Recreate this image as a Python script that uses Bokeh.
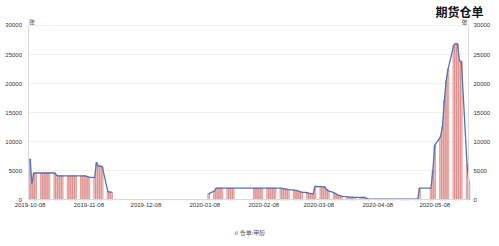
from datetime import datetime, timedelta

from bokeh.embed import file_html
from bokeh.models import (ColumnDataSource, DatetimeTickFormatter, FixedTicker,
                          Label, Legend, LegendItem, LinearAxis, Range1d)
from bokeh.plotting import figure
from bokeh.resources import INLINE

# Methanol futures warehouse receipts (张), one value per trading day
dates = [
    "2019-10-08", "2019-10-09", "2019-10-10", "2019-10-11",
    "2019-10-14", "2019-10-15", "2019-10-16", "2019-10-17", "2019-10-18",
    "2019-10-21", "2019-10-22", "2019-10-23", "2019-10-24", "2019-10-25",
    "2019-10-28", "2019-10-29", "2019-10-30", "2019-10-31", "2019-11-01",
    "2019-11-04", "2019-11-05", "2019-11-06", "2019-11-07", "2019-11-08",
    "2019-11-11", "2019-11-12", "2019-11-13", "2019-11-14", "2019-11-15",
    "2019-11-18", "2019-11-19", "2019-11-20",
    "2020-01-10",
    "2020-01-13", "2020-01-14", "2020-01-15", "2020-01-16", "2020-01-17",
    "2020-01-20", "2020-01-21", "2020-01-22", "2020-01-23",
    "2020-02-03", "2020-02-04", "2020-02-05", "2020-02-06", "2020-02-07",
    "2020-02-10", "2020-02-11", "2020-02-12", "2020-02-13", "2020-02-14",
    "2020-02-17", "2020-02-18", "2020-02-19", "2020-02-20", "2020-02-21",
    "2020-02-24", "2020-02-25", "2020-02-26", "2020-02-27", "2020-02-28",
    "2020-03-02", "2020-03-03", "2020-03-04", "2020-03-05", "2020-03-06",
    "2020-03-09", "2020-03-10", "2020-03-11", "2020-03-12", "2020-03-13",
    "2020-03-16", "2020-03-17", "2020-03-18", "2020-03-19", "2020-03-20",
    "2020-03-23", "2020-03-24", "2020-03-25", "2020-03-26", "2020-03-27",
    "2020-03-30", "2020-03-31", "2020-04-01", "2020-04-02", "2020-04-03",
    "2020-04-07", "2020-04-08", "2020-04-09", "2020-04-10",
    "2020-04-13", "2020-04-14", "2020-04-15", "2020-04-16", "2020-04-17",
    "2020-04-20", "2020-04-21", "2020-04-22", "2020-04-23", "2020-04-24",
    "2020-04-27", "2020-04-28", "2020-04-29", "2020-04-30",
    "2020-05-06", "2020-05-07", "2020-05-08",
    "2020-05-11", "2020-05-12", "2020-05-13", "2020-05-14", "2020-05-15",
    "2020-05-18", "2020-05-19", "2020-05-20", "2020-05-21", "2020-05-22",
    "2020-05-25", "2020-05-26",
]
receipts = [
    7000, 2700, 4600, 4600,
    4600, 4600, 4600, 4600, 4600,
    4600, 4200, 4100, 4100, 4100,
    4100, 4100, 4100, 4100, 4100,
    4100, 4100, 4100, 4000, 3900,
    3800, 6400, 5800, 5800, 5700,
    1400, 1300, 1300,
    1000,
    1500, 2000, 2000, 2000, 2000,
    2000, 2000, 2000, 2000,
    2000, 2000, 2000, 2000, 2000,
    2000, 2000, 2000, 2000, 2000,
    2000, 1900, 1850, 1800, 1750,
    1650, 1600, 1500, 1400, 1300,
    1200, 1100, 1050, 1000, 2300,
    2250, 2250, 2200, 1800, 1500,
    1200, 1000, 800, 700, 600,
    500, 450, 450, 420, 400,
    400, 400, 400, 250, 100,
    80, 80, 80, 80,
    80, 80, 80, 80, 80,
    80, 80, 80, 80, 80,
    80, 80, 80, 2000,
    2000, 5000, 9400,
    10800, 12500, 17000, 20500, 22500,
    26600, 26900, 26800, 23900, 23800,
    6000, 2900,
]

tick_dates = ["2019-10-08", "2019-11-08", "2019-12-08", "2020-01-08",
              "2020-02-08", "2020-03-08", "2020-04-08", "2020-05-08"]
y_ticks = [0, 5000, 10000, 15000, 20000, 25000, 30000]

series_name = "仓单:甲醇"
unit = "张"
title_text = "期货仓单"

day = timedelta(days=1)
x = [datetime.strptime(d, "%Y-%m-%d") for d in dates]


def ms(dt):
    return (dt - datetime(1970, 1, 1)).total_seconds() * 1000


# the line breaks where the series has no data for weeks
line_x, line_y = [], []
for i, (xi, yi) in enumerate(zip(x, receipts)):
    if i > 0 and (xi - x[i - 1]).days > 20:
        line_x.append(xi - day)
        line_y.append(float("nan"))
    line_x.append(xi)
    line_y.append(yi)

# layout: the frame fills the page below the title; both value axes and
# the date axis sit at fixed positions inside it
W, H = 499, 246
frame_top, zero_px, top_px = 18, 199, 24
left_px, right_px = 27.5, 468.0
per_px = 30000 / (zero_px - top_px)
y_start = -(H - zero_px) * per_px
y_end = 30000 + (top_px - frame_top) * per_px

plot_start = datetime(2019, 10, 8) - timedelta(days=1.05)
plot_end = plot_start + timedelta(days=231.8)
days_per_px = 231.8 / (right_px - left_px)
x_start = plot_start - timedelta(days=left_px * days_per_px)
x_end = plot_end + timedelta(days=(W - right_px) * days_per_px)

p = figure(width=W, height=H, x_axis_type="datetime",
           x_range=Range1d(x_start, x_end), y_range=Range1d(y_start, y_end),
           min_border_left=0, min_border_right=0, min_border_top=frame_top,
           min_border_bottom=0, toolbar_location=None, output_backend="svg")
p.outline_line_color = None

p.title.text = title_text
p.title.align = "right"
p.title.offset = 16
p.title.standoff = 0
p.title.text_font = "Noto Sans CJK SC"
p.title.text_font_size = "12px"
p.title.text_font_style = "bold"
p.title.text_color = "#111111"

# horizontal grid between the two value axes
p.xgrid.grid_line_color = None
p.ygrid.grid_line_color = None
p.segment(x0=[plot_start] * len(y_ticks), x1=[plot_end] * len(y_ticks),
          y0=y_ticks, y1=y_ticks, line_color="#efefef", line_width=1)

src = ColumnDataSource(dict(x=x, y=receipts))
bars = p.vbar(x="x", top="y", bottom=0, width=day * 0.85, source=src,
              fill_color="#f5d0ce", line_color="#cf6f6c", line_width=0.6)
p.line(line_x, line_y, line_color="#5074b5", line_width=1.3)

tick_font = "Liberation Sans"
ticks_ms = [ms(datetime.strptime(t, "%Y-%m-%d")) for t in tick_dates]
p.xaxis.ticker = FixedTicker(ticks=ticks_ms)
fmt = "%Y-%m-%d"
p.xaxis.formatter = DatetimeTickFormatter(
    milliseconds=fmt, seconds=fmt, minsec=fmt, minutes=fmt, hourmin=fmt,
    hours=fmt, days=fmt, months=fmt, years=fmt)
p.xaxis.fixed_location = 0
p.xaxis.bounds = (ms(plot_start), ms(plot_end))

p.yaxis.ticker = FixedTicker(ticks=y_ticks)
p.yaxis[0].fixed_location = ms(plot_start)
right_axis = LinearAxis(ticker=FixedTicker(ticks=y_ticks),
                        fixed_location=ms(plot_end))
p.add_layout(right_axis, "right")
for ax in p.yaxis:
    ax.bounds = (0, 30000)
for ax in p.xaxis + p.yaxis:
    ax.axis_line_color = "#d9d9d9"
    ax.major_tick_line_color = None
    ax.minor_tick_line_color = None
    ax.major_tick_out = 0
    ax.major_tick_in = 0
    ax.minor_tick_out = 0
    ax.minor_tick_in = 0
    ax.major_label_text_font = tick_font
    ax.major_label_text_font_size = "6px"
    ax.major_label_text_color = "#333333"
p.xaxis.major_label_standoff = 3
p.yaxis[0].major_label_standoff = 6
right_axis.major_label_standoff = 5

cjk = "Noto Sans CJK SC"
unit_y = 30000 + (top_px - 20.5) * per_px
for ux in (datetime(2019, 10, 9), datetime(2020, 5, 23, 14)):
    p.add_layout(Label(x=ms(ux), y=unit_y, text=unit, text_font=cjk,
                       text_font_size="6px", text_color="#444444",
                       text_align="center", text_baseline="middle"))

legend = Legend(items=[LegendItem(label=series_name, renderers=[bars])],
                location="bottom_center", orientation="horizontal",
                glyph_width=4, glyph_height=4, label_standoff=2,
                label_width=10, label_height=7, padding=0, margin=9,
                spacing=0, border_line_color=None, background_fill_alpha=0,
                label_text_font=cjk, label_text_font_size="6px",
                label_text_color="#555555")
p.add_layout(legend)

open("out.html", "w").write(file_html(p, INLINE))
